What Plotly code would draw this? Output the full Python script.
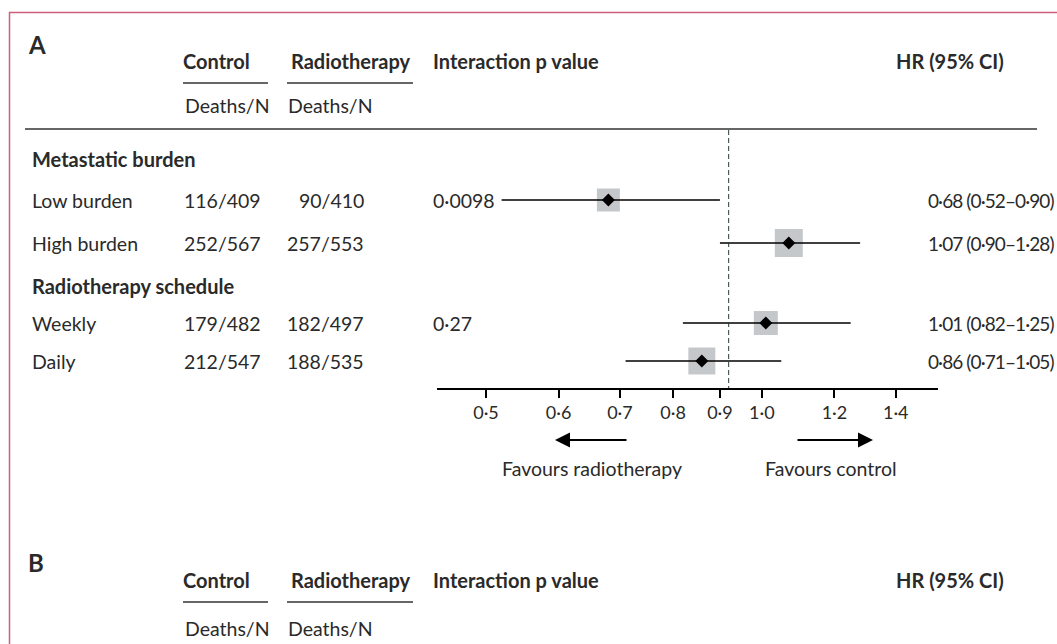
import plotly.graph_objects as go

# ---------------- data ----------------
groups = ["Metastatic burden", "Radiotherapy schedule"]
subgroups = ["Low burden", "High burden", "Weekly", "Daily"]
control_deaths_n = ["116/409", "252/567", "179/482", "212/547"]
radio_deaths_n = ["90/410", "257/553", "182/497", "188/535"]
interaction_p = ["0·0098", "", "0·27", ""]
hr = [0.68, 1.07, 1.01, 0.86]
hr_lo = [0.52, 0.90, 0.82, 0.71]
hr_hi = [0.90, 1.28, 1.25, 1.05]
overall_hr = 0.92
tick_vals = [0.5, 0.6, 0.7, 0.8, 0.9, 1.0, 1.2, 1.4]
tick_text = ["0·5", "0·6", "0·7", "0·8", "0·9", "1·0", "1·2", "1·4"]

# ---------------- layout / style ----------------
W, H = 1057, 644
FONT = "Lato"
TXT = "#2a2a2a"
FS = 19.5      # regular text
FSB = 20       # bold headings
FS_HR = 19     # HR column
group_rows_y = [159, 286]          # pixel rows of group headings
sub_rows_y = [200, 243, 323, 361]  # pixel rows of subgroup lines
box_sizes = [23, 28, 24, 27]


def px(x):
    return x / W


def py(y):
    return 1 - y / H


def fmt(v):
    return f"{v:.2f}".replace(".", "·")


fig = go.Figure()

# weight boxes
fig.add_trace(go.Scatter(
    x=hr, y=sub_rows_y, mode="markers",
    marker=dict(symbol="square", size=box_sizes, color="#adb1b5", line=dict(width=0)),
    hoverinfo="skip", showlegend=False))

# CI lines
cx, cy = [], []
for l, h_, y in zip(hr_lo, hr_hi, sub_rows_y):
    cx += [l, h_, None]
    cy += [y, y, None]
fig.add_trace(go.Scatter(x=cx, y=cy, mode="lines", line=dict(color="black", width=1.6),
                         hoverinfo="skip", showlegend=False))

# point estimates
fig.add_trace(go.Scatter(
    x=hr, y=sub_rows_y, mode="markers",
    marker=dict(symbol="diamond", size=10, color="black"),
    hoverinfo="skip", showlegend=False))

ann = []


def text(x, y, s, bold=False, anchor="left", size=None, yref="paper"):
    if size is None:
        size = FSB if bold else FS
    ann.append(dict(x=x, y=y, xref="paper", yref=yref, text=f"<b>{s}</b>" if bold else s,
                    showarrow=False, xanchor=anchor, yanchor="middle",
                    font=dict(family=FONT, size=size, color=TXT)))


def header(y_title, y_sub, letter, y_letter):
    text(px(26), py(y_letter), letter, bold=True, size=24)
    for (lbl, x0) in [("Control", 181), ("Radiotherapy", 289), ("Interaction p value", 431),
                      ("HR (95% CI)", 894)]:
        text(px(x0), py(y_title), lbl, bold=True)
    text(px(183), py(y_sub), "Deaths/N")
    text(px(286), py(y_sub), "Deaths/N")


header(61, 105, "A", 44)
header(580, 628, "B", 562)

# rows
for g, y in zip(groups, group_rows_y):
    text(px(30), y, g, bold=True, yref="y")
for i, y in enumerate(sub_rows_y):
    text(px(30), y, subgroups[i], yref="y")
    text(px(182), y, control_deaths_n[i], yref="y")
    text(px(366), y, radio_deaths_n[i], anchor="right", yref="y")
    if interaction_p[i]:
        text(px(431), y, interaction_p[i], yref="y")
    hr_txt = f"{fmt(hr[i])} ({fmt(hr_lo[i])}–{fmt(hr_hi[i])})"
    text(px(926), y, f'<span style="letter-spacing:-0.9px">{hr_txt}</span>', yref="y", size=FS_HR)

# favours labels
text(px(592), py(468), "Favours radiotherapy", anchor="center")
text(px(831), py(468), "Favours control", anchor="center")

# arrows
for head, tail in [(555, 628), (873, 796)]:
    ann.append(dict(x=px(head), y=py(440), ax=tail - head, ay=0, xref="paper", yref="paper",
                    axref="pixel", ayref="pixel", text="", showarrow=True, arrowhead=2,
                    arrowsize=1.5, arrowwidth=2, arrowcolor="black"))

shapes = []


def hline(x0, x1, y, color="#333333", width=1.5):
    shapes.append(dict(type="line", xref="paper", yref="paper", x0=px(x0), x1=px(x1),
                       y0=py(y), y1=py(y), line=dict(color=color, width=width)))


for yy in (83, 602):
    hline(183, 268, yy)
    hline(287, 413, yy)
hline(25, 1037, 129)
# pink frame
BORDER = "#cf607c"
hline(9, 1057, 12.5, color=BORDER, width=1.5)
shapes.append(dict(type="line", xref="paper", yref="paper", x0=px(9.5), x1=px(9.5),
                   y0=py(12), y1=0, line=dict(color=BORDER, width=1.5)))
# overall HR dashed reference
shapes.append(dict(type="line", xref="x", yref="paper", x0=overall_hr, x1=overall_hr,
                   y0=py(130), y1=py(388), line=dict(color="#2f3b35", width=1, dash="5px,3px")))

fig.update_layout(
    width=W, height=H, margin=dict(l=0, r=0, t=0, b=0),
    paper_bgcolor="white", plot_bgcolor="white",
    annotations=ann, shapes=shapes, showlegend=False,
    xaxis=dict(type="log", domain=[px(437), px(938)], range=[-0.3545, 0.1922],
               showgrid=False, zeroline=False, showline=True, linecolor="black", linewidth=1.5,
               ticks="outside", ticklen=8, tickwidth=1.5, tickcolor="black",
               tickvals=tick_vals, ticktext=tick_text,
               tickfont=dict(family=FONT, size=18, color=TXT), anchor="y", fixedrange=True),
    yaxis=dict(domain=[py(388), py(130)], range=[388, 130], visible=False, fixedrange=True),
)

fig.write_html("out.html")
